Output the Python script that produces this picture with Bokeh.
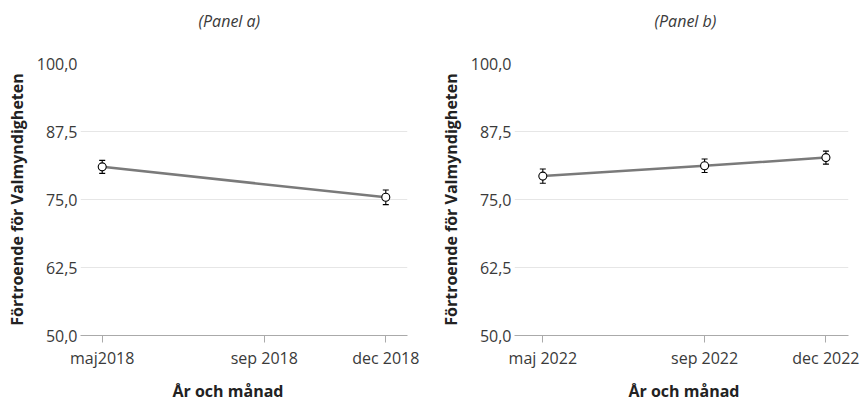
from bokeh.plotting import figure
from bokeh.models import FixedTicker, Range1d, Whisker, ColumnDataSource, Title, TeeHead
from bokeh.layouts import row
from bokeh.embed import file_html
from bokeh.resources import INLINE

# ---- data ----
a_months = [5, 12]                 # maj, dec 2018
a_values = [81.0, 75.4]
a_err = [1.2, 1.35]
a_ticks = [5, 9, 12]
a_labels = ["maj2018", "sep 2018", "dec 2018"]

b_months = [5, 9, 12]              # maj, sep, dec 2022
b_values = [79.3, 81.2, 82.7]
b_err = [1.3, 1.25, 1.2]
b_ticks = [5, 9, 12]
b_labels = ["maj 2022", "sep 2022", "dec 2022"]

y_ticks = [50, 62.5, 75, 87.5, 100]
y_labels = ["50,0", "62,5", "75,0", "87,5", "100,0"]

FONT = "Open Sans"
TXT = "#3a3a3a"


def make(months, values, err, ticks, labels, xr, fw, bl, br, title, toff, xoff):
    p = figure(frame_width=fw, frame_height=272, output_backend="svg", toolbar_location=None,
               x_range=Range1d(*xr), y_range=Range1d(50, 100),
               min_border_left=bl, min_border_right=br, min_border_top=63,
               min_border_bottom=60, outline_line_color=None)
    spacer = Title(text=" ", text_font=FONT, text_font_size="16px", standoff=8)
    p.add_layout(spacer, "above")
    t = Title(text=title, align="left", offset=toff, text_font=FONT,
              text_font_style="italic", text_font_size="16px", text_color=TXT,
              standoff=0)
    p.add_layout(t, "above")
    xt = Title(text="År och månad", align="left", offset=xoff, text_font=FONT,
               text_font_style="bold", text_font_size="16px", text_color="#222222",
               standoff=13)
    p.add_layout(xt, "below")

    src = ColumnDataSource(dict(x=months, y=values,
                                lo=[v - e for v, e in zip(values, err)],
                                hi=[v + e for v, e in zip(values, err)]))
    p.line("x", "y", source=src, line_color="#7a7a7a", line_width=2.5)
    w = Whisker(base="x", lower="lo", upper="hi", source=src, line_color="black",
                line_width=1.1,
                upper_head=TeeHead(size=6, line_color="black", line_width=1.1),
                lower_head=TeeHead(size=6, line_color="black", line_width=1.1))
    p.add_layout(w)
    p.scatter("x", "y", source=src, size=8, fill_color="white", line_color="black",
              line_width=1.1)

    p.xaxis.ticker = FixedTicker(ticks=ticks)
    p.xaxis.major_label_overrides = {t_: l for t_, l in zip(ticks, labels)}
    p.xaxis.axis_line_color = "#aaaaaa"
    p.xaxis.major_tick_line_color = "#aaaaaa"
    p.xaxis.major_tick_out = 7
    p.xaxis.major_tick_in = 0
    p.xaxis.minor_tick_line_color = None
    p.xaxis.major_label_text_font = FONT
    p.xaxis.major_label_text_font_size = "16px"
    p.xaxis.major_label_text_color = TXT
    p.xaxis.major_label_standoff = 4

    p.yaxis.ticker = FixedTicker(ticks=y_ticks)
    p.yaxis.major_label_overrides = {t_: l for t_, l in zip(y_ticks, y_labels)}
    p.yaxis.axis_line_color = None
    p.yaxis.major_tick_line_color = None
    p.yaxis.major_tick_out = 0
    p.yaxis.major_tick_in = 0
    p.yaxis.minor_tick_line_color = None
    p.yaxis.major_label_text_font = FONT
    p.yaxis.major_label_text_font_size = "16px"
    p.yaxis.major_label_text_color = TXT
    p.yaxis.major_label_standoff = 3
    p.yaxis.axis_label = "Förtroende för Valmyndigheten"
    p.yaxis.axis_label_text_font = FONT
    p.yaxis.axis_label_text_font_style = "bold"
    p.yaxis.axis_label_text_font_size = "16px"
    p.yaxis.axis_label_text_color = "#222222"
    p.yaxis.axis_label_standoff = 6

    p.xgrid.grid_line_color = None
    p.ygrid.grid_line_color = "#e6e6e6"
    p.ygrid.grid_line_width = 1
    return p


pa = make(a_months, a_values, a_err, a_ticks, a_labels, (4.464, 12.536), 327, 80, 25,
          "(Panel a)", 118, 92)
pb = make(b_months, b_values, b_err, b_ticks, b_labels, (4.30, 12.558), 334, 82, 16,
          "(Panel b)", 140, 114)

layout = row(pa, pb)
open("out.html", "w").write(file_html(layout, INLINE))
